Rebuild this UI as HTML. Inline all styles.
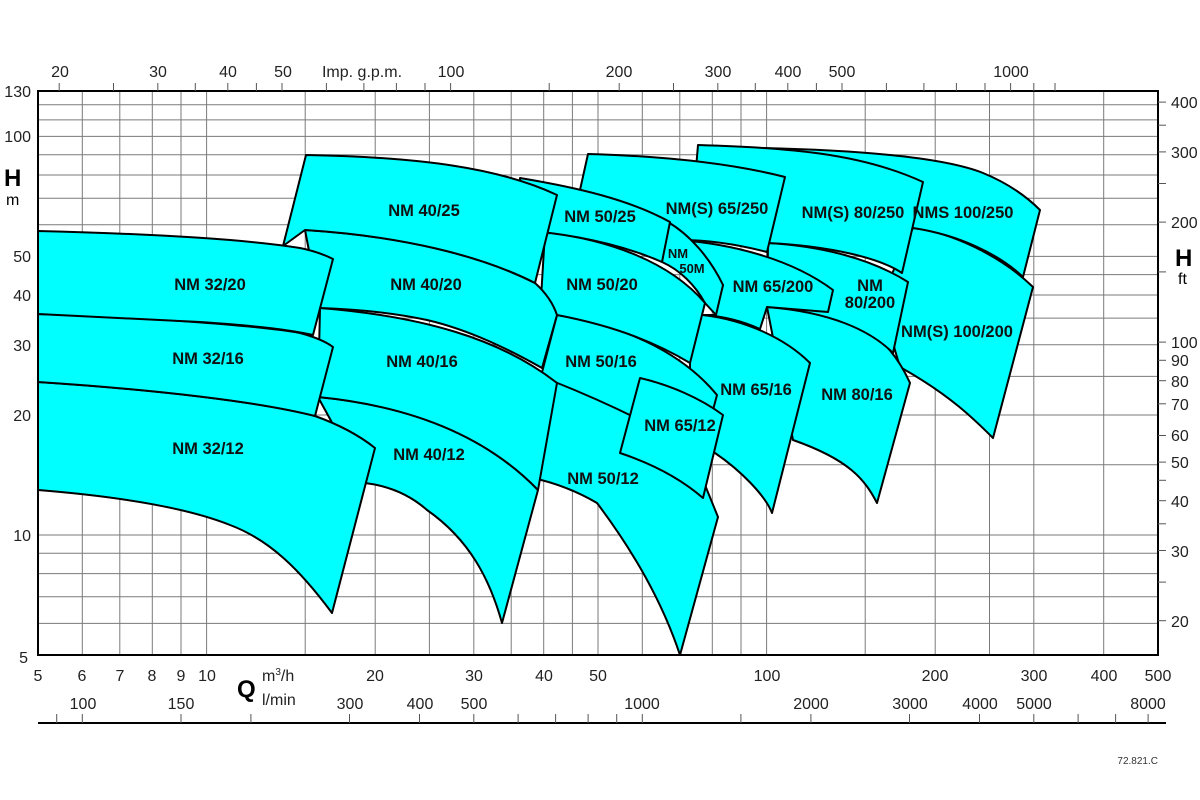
<!DOCTYPE html>
<html><head><meta charset="utf-8"><style>
html,body{margin:0;padding:0;background:#fff;}
svg{display:block;font-family:"Liberation Sans",Arial,sans-serif;}
.g{stroke:#7a7a7a;stroke-width:1;}
.s{fill:#00ffff;stroke:#000;stroke-width:2;stroke-linejoin:round;}
.l{font-weight:bold;font-size:16.5px;fill:#111;text-anchor:middle;}
.t{font-size:16px;fill:#222;}
</style></head><body>
<svg width="1200" height="800" viewBox="0 0 1200 800">
<rect x="0" y="0" width="1200" height="800" fill="#fff"/>
<g class="g">
<line x1="82.3" y1="91" x2="82.3" y2="655"/><line x1="119.8" y1="91" x2="119.8" y2="655"/><line x1="152.3" y1="91" x2="152.3" y2="655"/><line x1="181" y1="91" x2="181" y2="655"/><line x1="206.6" y1="91" x2="206.6" y2="655"/><line x1="305.2" y1="91" x2="305.2" y2="655"/><line x1="375.2" y1="91" x2="375.2" y2="655"/><line x1="429.4" y1="91" x2="429.4" y2="655"/><line x1="473.8" y1="91" x2="473.8" y2="655"/><line x1="511.2" y1="91" x2="511.2" y2="655"/><line x1="543.7" y1="91" x2="543.7" y2="655"/><line x1="572.4" y1="91" x2="572.4" y2="655"/><line x1="598" y1="91" x2="598" y2="655"/><line x1="642.3" y1="91" x2="642.3" y2="655"/><line x1="679.8" y1="91" x2="679.8" y2="655"/><line x1="712.3" y1="91" x2="712.3" y2="655"/><line x1="741" y1="91" x2="741" y2="655"/><line x1="766.6" y1="91" x2="766.6" y2="655"/><line x1="865.2" y1="91" x2="865.2" y2="655"/><line x1="935.2" y1="91" x2="935.2" y2="655"/><line x1="989.5" y1="91" x2="989.5" y2="655"/><line x1="1033.8" y1="91" x2="1033.8" y2="655"/><line x1="1103.7" y1="91" x2="1103.7" y2="655"/>
<line x1="38" y1="623.4" x2="1158" y2="623.4"/><line x1="38" y1="596.8" x2="1158" y2="596.8"/><line x1="38" y1="573.6" x2="1158" y2="573.6"/><line x1="38" y1="553.3" x2="1158" y2="553.3"/><line x1="38" y1="535" x2="1158" y2="535"/><line x1="38" y1="464.8" x2="1158" y2="464.8"/><line x1="38" y1="415" x2="1158" y2="415"/><line x1="38" y1="376.4" x2="1158" y2="376.4"/><line x1="38" y1="344.8" x2="1158" y2="344.8"/><line x1="38" y1="318.1" x2="1158" y2="318.1"/><line x1="38" y1="295" x2="1158" y2="295"/><line x1="38" y1="274.6" x2="1158" y2="274.6"/><line x1="38" y1="256.4" x2="1158" y2="256.4"/><line x1="38" y1="224.8" x2="1158" y2="224.8"/><line x1="38" y1="198.2" x2="1158" y2="198.2"/><line x1="38" y1="175" x2="1158" y2="175"/><line x1="38" y1="154.7" x2="1158" y2="154.7"/><line x1="38" y1="136.4" x2="1158" y2="136.4"/><line x1="38" y1="119.9" x2="1158" y2="119.9"/><line x1="38" y1="104.8" x2="1158" y2="104.8"/>
</g>

<!-- 100 family -->
<path class="s" d="M913,228 C950,232 1000,255 1033,287 L993,438 C975,420 950,395 900,367 L880,300 Z"/>
<path class="s" d="M760,148 C850,150 940,156 983,173 C1005,182 1025,195 1040,210 L1023,277 C1000,255 960,235 913,228 L900,228 L760,200 Z"/>
<!-- 80 family -->
<path class="s" d="M767,307 C820,310 855,322 875,335 C890,348 902,365 910,383 L877,503 C865,480 850,460 793,440 Z"/>
<path class="s" d="M768,243 C820,246 870,258 908,282 L893,353 C870,330 830,312 767,307 Z"/>
<path class="s" d="M698,145 C790,148 860,153 923,182 L902,273 C880,258 830,246 768,243 L690,240 Z"/>
<!-- 65 family -->
<path class="s" d="M703,315 C745,320 785,338 810,363 L772,513 C765,495 740,470 715,453 L690,440 L690,315 Z"/>
<path class="s" d="M680,240 C730,244 790,258 833,290 L828,312 L767,307 L760,329 C740,320 720,316 703,315 L715,315 L723,285 Z"/>
<path class="s" d="M588,154 C660,156 730,163 785,177 L767,252 C740,245 710,240 680,240 L580,190 Z"/>
<!-- 50M -->
<path class="s" d="M668,222 C690,235 710,258 723,285 L716,315 L705,303 C695,285 680,270 662,262 Z"/>
<!-- 50 family -->
<path class="s" d="M555,382 C620,400 680,440 705,485 L718,517 L680,655 C665,610 640,560 597,503 C580,493 560,484 533,478 Z"/>
<path class="s" d="M557,315 C620,325 680,350 717,395 L713,410 L640,420 C610,405 580,392 555,382 L540,380 Z"/>
<path class="s" d="M545,232 C610,240 670,262 705,303 L690,363 C660,345 620,327 557,315 L540,315 Z"/>
<path class="s" d="M520,178 C580,188 630,200 670,222 L662,262 C630,248 590,238 550,233 L520,235 Z"/>
<path class="s" d="M640,378 C670,385 700,398 723,415 L703,498 C680,478 650,463 620,453 Z"/>
<!-- 40 family -->
<path class="s" d="M318,397 C400,405 480,430 538,490 L502,623 C490,580 470,540 427,510 C410,495 390,486 365,483 Z"/>
<path class="s" d="M320,308 C420,316 500,338 557,383 L538,490 C480,430 400,405 318,397 Z"/>
<path class="s" d="M305,230 C400,236 480,255 535,283 C545,292 553,303 557,315 L542,368 C510,350 470,330 427,320 C390,312 350,309 320,308 Z"/>
<path class="s" d="M306,155 C420,157 500,168 557,195 L535,283 C480,255 400,236 305,230 L283,246 Z"/>
<!-- 32 family -->
<path class="s" d="M38,382 C160,390 260,402 315,416 C340,425 360,436 375,448 L332,613 C300,570 270,540 230,525 C180,505 100,495 38,490 Z"/>
<path class="s" d="M38,314 C160,318 260,326 300,333 C315,337 325,341 333,347 L315,416 C260,402 160,390 38,382 Z"/>
<path class="s" d="M38,231 C160,234 250,240 300,248 C315,251 325,255 333,259 L313,335 C290,330 260,326 200,322 C140,319 80,316 38,314 Z"/>

<rect x="38" y="91" width="1120" height="564" fill="none" stroke="#000" stroke-width="2"/>

<g class="l">
<text x="424" y="216">NM 40/25</text>
<text x="210" y="290">NM 32/20</text>
<text x="426" y="290">NM 40/20</text>
<text x="600" y="222">NM 50/25</text>
<text x="717" y="214">NM(S) 65/250</text>
<text x="853" y="218">NM(S) 80/250</text>
<text x="963" y="218">NMS 100/250</text>
<text x="602" y="290">NM 50/20</text>
<text x="678" y="258" style="font-size:13px">NM</text>
<text x="692" y="273" style="font-size:13px">50M</text>
<text x="773" y="292">NM 65/200</text>
<text x="870" y="291">NM</text>
<text x="870" y="308">80/200</text>
<text x="957" y="337">NM(S) 100/200</text>
<text x="208" y="364">NM 32/16</text>
<text x="422" y="367">NM 40/16</text>
<text x="601" y="367">NM 50/16</text>
<text x="756" y="395">NM 65/16</text>
<text x="857" y="400">NM 80/16</text>
<text x="208" y="454">NM 32/12</text>
<text x="429" y="460">NM 40/12</text>
<text x="680" y="431">NM 65/12</text>
<text x="603" y="484">NM 50/12</text>
</g>

<g class="t" text-anchor="end">
<text x="31" y="97">130</text><text x="31" y="142">100</text><text x="31" y="262">50</text><text x="31" y="301">40</text><text x="31" y="351">30</text><text x="31" y="421">20</text><text x="31" y="541">10</text><text x="28" y="663">5</text>
</g>
<text x="4" y="186" style="font-size:24px;font-weight:bold">H</text>
<text x="6" y="205" style="font-size:16px">m</text>

<g stroke="#555" stroke-width="1">
<line x1="1158" y1="620.7" x2="1166" y2="620.7"/><line x1="1158" y1="582.1" x2="1166" y2="582.1"/><line x1="1158" y1="550.5" x2="1166" y2="550.5"/><line x1="1158" y1="523.8" x2="1166" y2="523.8"/><line x1="1158" y1="500.7" x2="1166" y2="500.7"/><line x1="1158" y1="480.3" x2="1166" y2="480.3"/><line x1="1158" y1="462.1" x2="1166" y2="462.1"/><line x1="1158" y1="435.5" x2="1166" y2="435.5"/><line x1="1158" y1="403.8" x2="1166" y2="403.8"/><line x1="1158" y1="380.7" x2="1166" y2="380.7"/><line x1="1158" y1="360.3" x2="1166" y2="360.3"/><line x1="1158" y1="342.1" x2="1166" y2="342.1"/><line x1="1158" y1="271.9" x2="1166" y2="271.9"/><line x1="1158" y1="222.1" x2="1166" y2="222.1"/><line x1="1158" y1="183.5" x2="1166" y2="183.5"/><line x1="1158" y1="151.9" x2="1166" y2="151.9"/><line x1="1158" y1="125.2" x2="1166" y2="125.2"/><line x1="1158" y1="102.1" x2="1166" y2="102.1"/>
</g>
<g class="t">
<text x="1171" y="627">20</text><text x="1171" y="557">30</text><text x="1171" y="507">40</text><text x="1171" y="468">50</text><text x="1171" y="441">60</text><text x="1171" y="410">70</text><text x="1171" y="387">80</text><text x="1171" y="366">90</text><text x="1171" y="348">100</text><text x="1171" y="228">200</text><text x="1171" y="158">300</text><text x="1171" y="108">400</text>
</g>
<text x="1175" y="266" style="font-size:24px;font-weight:bold">H</text>
<text x="1178" y="284" style="font-size:16px">ft</text>

<g stroke="#555" stroke-width="1">
<line x1="59.2" y1="83" x2="59.2" y2="91"/><line x1="113.5" y1="83" x2="113.5" y2="91"/><line x1="157.8" y1="83" x2="157.8" y2="91"/><line x1="195.3" y1="83" x2="195.3" y2="91"/><line x1="227.8" y1="83" x2="227.8" y2="91"/><line x1="256.4" y1="83" x2="256.4" y2="91"/><line x1="282" y1="83" x2="282" y2="91"/><line x1="326.4" y1="83" x2="326.4" y2="91"/><line x1="363.9" y1="83" x2="363.9" y2="91"/><line x1="396.4" y1="83" x2="396.4" y2="91"/><line x1="425" y1="83" x2="425" y2="91"/><line x1="450.6" y1="83" x2="450.6" y2="91"/><line x1="549.2" y1="83" x2="549.2" y2="91"/><line x1="619.2" y1="83" x2="619.2" y2="91"/><line x1="673.5" y1="83" x2="673.5" y2="91"/><line x1="717.8" y1="83" x2="717.8" y2="91"/><line x1="755.3" y1="83" x2="755.3" y2="91"/><line x1="787.8" y1="83" x2="787.8" y2="91"/><line x1="816.4" y1="83" x2="816.4" y2="91"/><line x1="842" y1="83" x2="842" y2="91"/><line x1="886.4" y1="83" x2="886.4" y2="91"/><line x1="923.9" y1="83" x2="923.9" y2="91"/><line x1="956.4" y1="83" x2="956.4" y2="91"/><line x1="985" y1="83" x2="985" y2="91"/><line x1="1010.6" y1="83" x2="1010.6" y2="91"/><line x1="1033.8" y1="83" x2="1033.8" y2="91"/><line x1="1055" y1="83" x2="1055" y2="91"/>
</g>
<g class="t" text-anchor="middle">
<text x="60" y="77">20</text><text x="158" y="77">30</text><text x="228" y="77">40</text><text x="283" y="77">50</text><text x="362" y="77">Imp. g.p.m.</text><text x="451" y="77">100</text><text x="619" y="77">200</text><text x="718" y="77">300</text><text x="788" y="77">400</text><text x="842" y="77">500</text><text x="1011" y="77">1000</text>
</g>

<g class="t" text-anchor="middle">
<text x="38" y="681">5</text><text x="82" y="681">6</text><text x="120" y="681">7</text><text x="152" y="681">8</text><text x="181" y="681">9</text><text x="207" y="681">10</text><text x="375" y="681">20</text><text x="474" y="681">30</text><text x="544" y="681">40</text><text x="598" y="681">50</text><text x="767" y="681">100</text><text x="935" y="681">200</text><text x="1034" y="681">300</text><text x="1104" y="681">400</text><text x="1158" y="681">500</text>
</g>
<text x="262" y="681" class="t">m<tspan dy="-6" style="font-size:10px">3</tspan><tspan dy="6">/h</tspan></text>
<text x="237" y="697" style="font-size:24px;font-weight:bold">Q</text>
<text x="262" y="705" class="t">l/min</text>

<line x1="38" y1="723" x2="1166" y2="723" stroke="#000" stroke-width="2"/>
<g stroke="#555" stroke-width="1">
<line x1="56.7" y1="714" x2="56.7" y2="723"/><line x1="82.3" y1="714" x2="82.3" y2="723"/><line x1="181" y1="714" x2="181" y2="723"/><line x1="250.9" y1="714" x2="250.9" y2="723"/><line x1="349.5" y1="714" x2="349.5" y2="723"/><line x1="419.5" y1="714" x2="419.5" y2="723"/><line x1="473.8" y1="714" x2="473.8" y2="723"/><line x1="518.1" y1="714" x2="518.1" y2="723"/><line x1="555.6" y1="714" x2="555.6" y2="723"/><line x1="588.1" y1="714" x2="588.1" y2="723"/><line x1="616.7" y1="714" x2="616.7" y2="723"/><line x1="642.3" y1="714" x2="642.3" y2="723"/><line x1="740.9" y1="714" x2="740.9" y2="723"/><line x1="810.9" y1="714" x2="810.9" y2="723"/><line x1="909.5" y1="714" x2="909.5" y2="723"/><line x1="979.5" y1="714" x2="979.5" y2="723"/><line x1="1033.8" y1="714" x2="1033.8" y2="723"/><line x1="1078.1" y1="714" x2="1078.1" y2="723"/><line x1="1115.6" y1="714" x2="1115.6" y2="723"/><line x1="1148.1" y1="714" x2="1148.1" y2="723"/>
</g>
<g class="t" text-anchor="middle">
<text x="83" y="709">100</text><text x="181" y="709">150</text><text x="350" y="709">300</text><text x="420" y="709">400</text><text x="474" y="709">500</text><text x="642" y="709">1000</text><text x="811" y="709">2000</text><text x="910" y="709">3000</text><text x="980" y="709">4000</text><text x="1034" y="709">5000</text><text x="1148" y="709">8000</text>
</g>
<text x="1158" y="764" text-anchor="end" style="font-size:10px;fill:#333">72.821.C</text>
</svg>
</body></html>
